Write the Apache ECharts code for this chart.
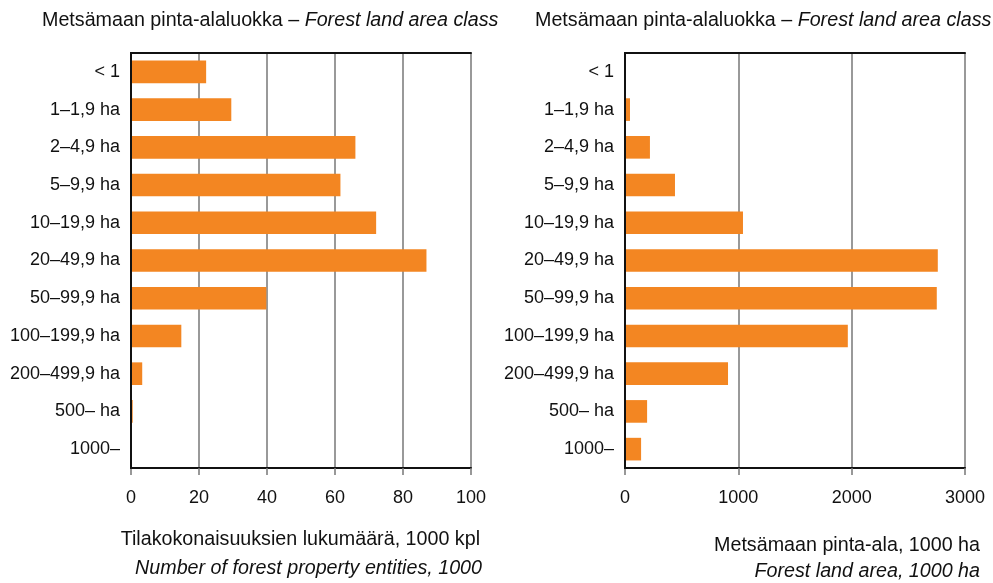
<!DOCTYPE html>
<html>
<head>
<meta charset="utf-8">
<script src="https://cdn.jsdelivr.net/npm/echarts@6/dist/echarts.min.js"></script>
<style>html,body{margin:0;padding:0;background:#fff}#c{width:993px;height:583px}</style>
</head>
<body>
<div id="c"></div>
<script>
const categories = ['< 1', '1–1,9 ha', '2–4,9 ha', '5–9,9 ha', '10–19,9 ha', '20–49,9 ha', '50–99,9 ha', '100–199,9 ha', '200–499,9 ha', '500– ha', '1000–'];
const entities = [22.1, 29.5, 66.0, 61.6, 72.1, 86.9, 39.8, 14.8, 3.3, 0.5, 0.1];
const area = [5, 44, 220, 441, 1041, 2760, 2751, 1966, 909, 195, 142];
const leftTicks = { min: 0, max: 100, interval: 20 };
const rightTicks = { min: 0, max: 3000, interval: 1000 };
const titleMain = ['Metsämaan pinta-alaluokka – ', 'Forest land area class'];
const leftName = ['Tilakokonaisuuksien lukumäärä, 1000 kpl', 'Number of forest property entities, 1000'];
const rightName = ['Metsämaan pinta-ala, 1000 ha', 'Forest land area, 1000 ha'];

const FONT = "'Liberation Sans', Arial, sans-serif";
const BIG = 19.7;
const ORANGE = '#F38622';
const chart = echarts.init(document.getElementById('c'));

function valueAxis(gi, t) {
  return {
    type: 'value', gridIndex: gi, min: t.min, max: t.max, interval: t.interval, position: 'bottom',
    axisLine: { show: true, lineStyle: { color: '#111', width: 2 } },
    axisTick: { show: true, length: 7, lineStyle: { color: '#777', width: 1.5 } },
    axisLabel: { fontSize: 18, color: '#111', fontFamily: FONT, margin: 21, formatter: v => String(v) },
    splitLine: { show: true, lineStyle: { color: '#777', width: 1.5 } }
  };
}
function topAxis(gi, t) {
  return {
    type: 'value', gridIndex: gi, min: t.min, max: t.max, interval: t.interval, position: 'top', z: 5,
    axisLine: { show: true, lineStyle: { color: '#111', width: 2 } },
    axisTick: { show: false }, axisLabel: { show: false }, splitLine: { show: false }
  };
}
function catAxis(gi, pos, labels) {
  return {
    type: 'category', gridIndex: gi, data: categories, inverse: true, position: pos, z: 5,
    axisLine: { show: true, lineStyle: { color: '#111', width: 2 } },
    axisTick: { show: false },
    axisLabel: { show: labels, fontSize: 18, color: '#111', fontFamily: FONT, margin: 11 },
    splitLine: { show: false }
  };
}
function titleLine(text, italic, pos) {
  return Object.assign({
    text: text, padding: 0,
    textStyle: { fontSize: BIG, fontWeight: 'normal', fontStyle: italic ? 'italic' : 'normal', color: '#111', fontFamily: FONT }
  }, pos);
}
function mainTitle(left) {
  return {
    text: '{a|' + titleMain[0] + '}{b|' + titleMain[1] + '}', left: left, top: 11, padding: 0,
    textStyle: {
      fontWeight: 'normal',
      rich: {
        a: { fontSize: BIG, fontWeight: 'normal', color: '#111', fontFamily: FONT },
        b: { fontSize: BIG, fontWeight: 'normal', color: '#111', fontFamily: FONT, fontStyle: 'italic' }
      }
    }
  };
}

chart.setOption({
  animation: false,
  backgroundColor: '#fff',
  title: [
    mainTitle(42), mainTitle(535),
    titleLine(leftName[0], false, { right: 513, top: 530 }),
    titleLine(leftName[1], true, { right: 511, top: 559 }),
    titleLine(rightName[0], false, { right: 13, top: 536 }),
    titleLine(rightName[1], true, { right: 13, top: 562 })
  ],
  grid: [
    { left: 131, right: 522, top: 53, bottom: 115 },
    { left: 625, right: 28, top: 53, bottom: 115 }
  ],
  xAxis: [valueAxis(0, leftTicks), valueAxis(1, rightTicks), topAxis(0, leftTicks), topAxis(1, rightTicks)],
  yAxis: [catAxis(0, 'left', true), catAxis(1, 'left', true), catAxis(0, 'right', false), catAxis(1, 'right', false)],
  series: [
    { type: 'bar', xAxisIndex: 0, yAxisIndex: 0, data: entities, barCategoryGap: '40%', itemStyle: { color: ORANGE }, z: 3 },
    { type: 'bar', xAxisIndex: 1, yAxisIndex: 1, data: area, barCategoryGap: '40%', itemStyle: { color: ORANGE }, z: 3 }
  ]
});
</script>
</body>
</html>
